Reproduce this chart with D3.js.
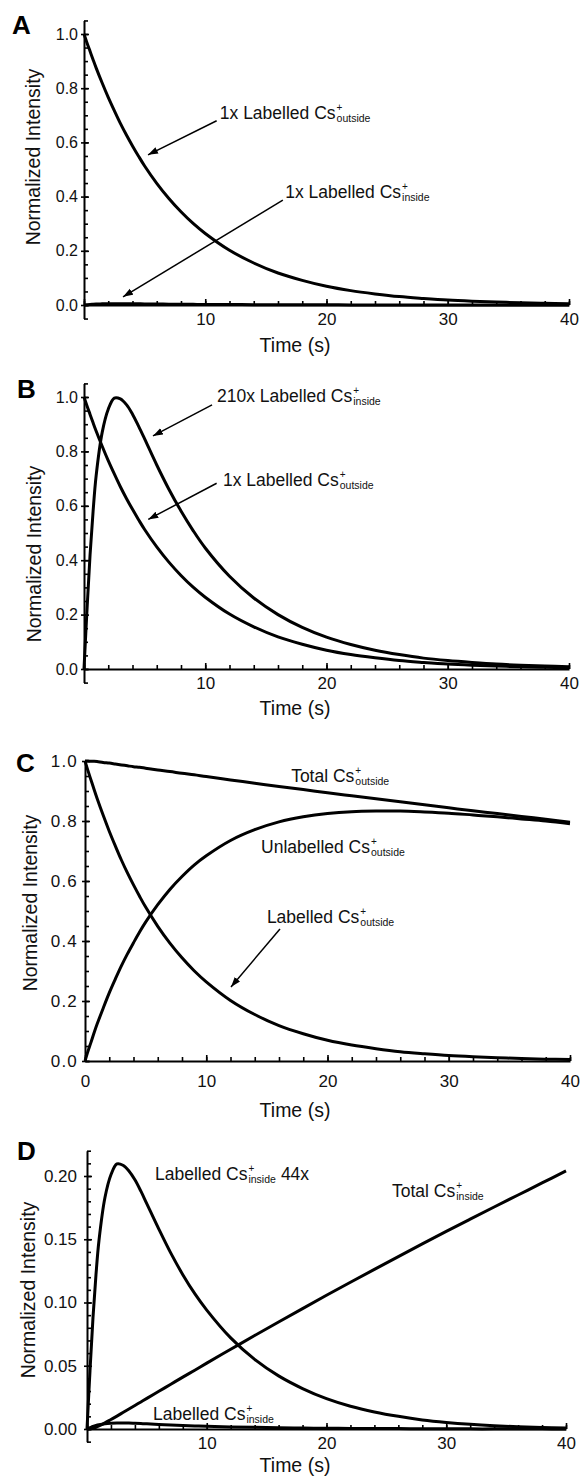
<!DOCTYPE html>
<html>
<head>
<meta charset="utf-8">
<script src="https://cdn.jsdelivr.net/npm/d3@7"></script>
<style>
body { margin: 0; background: #fff; }
svg text { font-family: "Liberation Sans", Arial, sans-serif; fill: #111; }
</style>
</head>
<body>
<svg id="fig" width="582" height="1477"></svg>
<script>
// time points (s), shared by every curve
var time = [0, 0.25, 0.5, 0.75, 1, 1.5, 2, 2.5, 3, 3.5, 4, 4.5, 5, 6, 7, 8, 9, 10,
	12, 14, 16, 18, 20, 22, 24, 26, 28, 30, 32, 34, 36, 38, 40];

// labelled Cs+ outside (A, B, C)
var labelledOutside = [1.000, 0.967, 0.936, 0.905, 0.875, 0.819, 0.766, 0.717, 0.670, 0.627, 0.587, 0.549, 0.513, 0.449, 0.393, 0.344, 0.301, 0.264,
	0.202, 0.155, 0.118, 0.091, 0.069, 0.053, 0.041, 0.031, 0.024, 0.018, 0.014, 0.011, 0.008, 0.006, 0.005];

// 210x labelled Cs+ inside (B)
var labelledInside210 = [0, 0.22, 0.42, 0.58, 0.71, 0.87, 0.955, 0.996, 0.993, 0.972, 0.937, 0.893, 0.846, 0.750, 0.661, 0.581, 0.509, 0.445,
	0.341, 0.261, 0.200, 0.153, 0.117, 0.090, 0.069, 0.053, 0.040, 0.031, 0.024, 0.018, 0.014, 0.011, 0.008];

// 1x labelled Cs+ inside (A, D)
var labelledInside = [0, 0.0010, 0.0020, 0.0028, 0.0034, 0.0042, 0.0046, 0.0048, 0.0048, 0.0047, 0.0045, 0.0043, 0.0041, 0.0036, 0.0032, 0.0028, 0.0024, 0.0021,
	0.0016, 0.0013, 0.0010, 0.0007, 0.0006, 0.0004, 0.0003, 0.0003, 0.0002, 0.0002, 0.0001, 0.0001, 0.0001, 0.0001, 0.0000];

// 44x labelled Cs+ inside (D)
var labelledInside44 = [0, 0.046, 0.088, 0.122, 0.149, 0.183, 0.201, 0.2095, 0.2085, 0.204, 0.197, 0.188, 0.178, 0.158, 0.139, 0.122, 0.107, 0.094,
	0.072, 0.055, 0.042, 0.032, 0.024, 0.018, 0.0135, 0.010, 0.0072, 0.0052, 0.0037, 0.0026, 0.0018, 0.0012, 0.0008];

// total Cs+ inside (D)
var totalInside = [0, 0.0002, 0.0007, 0.0014, 0.0024, 0.0048, 0.0075, 0.0102, 0.0130, 0.0158, 0.0186, 0.0214, 0.0242, 0.0298, 0.0354, 0.0410, 0.0465, 0.0521,
	0.0630, 0.0739, 0.0846, 0.0952, 0.1057, 0.1160, 0.1262, 0.1363, 0.1463, 0.1562, 0.1659, 0.1755, 0.1850, 0.1945, 0.2040];

// total and unlabelled Cs+ outside (C)
var totalOutside = [1.000, 1.000, 0.999, 0.999, 0.998, 0.995, 0.993, 0.990, 0.987, 0.984, 0.981, 0.979, 0.976, 0.970, 0.965, 0.959, 0.954, 0.948,
	0.937, 0.926, 0.915, 0.905, 0.894, 0.884, 0.874, 0.864, 0.854, 0.844, 0.834, 0.825, 0.815, 0.806, 0.796];
var unlabelledOutside = [0.000, 0.033, 0.063, 0.094, 0.123, 0.176, 0.227, 0.273, 0.317, 0.357, 0.394, 0.430, 0.463, 0.521, 0.572, 0.615, 0.653, 0.684,
	0.735, 0.771, 0.797, 0.814, 0.825, 0.831, 0.833, 0.833, 0.830, 0.826, 0.820, 0.814, 0.807, 0.800, 0.791];

// tick values
var yMajor01 = [0, 0.2, 0.4, 0.6, 0.8, 1.0];
var yMajorD = [0, 0.05, 0.10, 0.15, 0.20];
var xMajor = [0, 10, 20, 30, 40];
var xLabelsNoZero = [10, 20, 30, 40];

// panel layout
var panels = [
	{ letter: "A", lx: 12, ly: 34, left: 84, right: 569, zeroY: 305, refY: 34, refV: 1, yDom: [-0.05, 1.05], minorStep: 0.05,
		yMajor: yMajor01, yFmt: d3.format(".1f"), yFont: 16, yPad: 3, xLabels: xLabelsNoZero, xPad: 8, titleDy: 47, yTitleX: 40, yTitleY: 157,
		series: [labelledOutside, labelledInside] },
	{ letter: "B", lx: 17, ly: 398, left: 84, right: 569, zeroY: 669, refY: 397, refV: 1, yDom: [-0.05, 1.05], minorStep: 0.05,
		yMajor: yMajor01, yFmt: d3.format(".1f"), yFont: 16, yPad: 3, xLabels: xLabelsNoZero, xPad: 8, titleDy: 46, yTitleX: 41, yTitleY: 554,
		series: [labelledInside210, labelledOutside] },
	{ letter: "C", lx: 16, ly: 772, left: 85, right: 570, zeroY: 1061, refY: 761, refV: 1, yDom: [0, 1.0], minorStep: 0.05,
		yMajor: yMajor01, yFmt: d3.format(".1f"), yFont: 17, yPad: 4, xLabels: xMajor, xPad: 14, titleDy: 56, yTitleX: 37, yTitleY: 903,
		series: [totalOutside, unlabelledOutside, labelledOutside] },
	{ letter: "D", lx: 17, ly: 1160, left: 87, right: 566, zeroY: 1429, refY: 1176, refV: 0.2, yDom: [-0.01, 0.22], minorStep: 0.01,
		yMajor: yMajorD, yFmt: d3.format(".2f"), yFont: 17, yPad: 7, xLabels: xLabelsNoZero, xPad: 8, titleDy: 43, yTitleX: 35, yTitleY: 1290,
		series: [labelledInside44, totalInside, labelledInside] }
];

// annotations, positions in data units (t, value)
var notes = {
	A: [ { t: 11.2, v: 0.686, pre: "1x Labelled Cs", sub: "outside", arrow: [10.94, 0.680, 5.28, 0.554] },
		{ t: 16.6, v: 0.395, pre: "1x Labelled Cs", sub: "inside", arrow: [16.4, 0.387, 3.22, 0.030] } ],
	B: [ { t: 10.97, v: 0.983, pre: "210x Labelled Cs", sub: "inside", arrow: [10.56, 0.971, 5.69, 0.857] },
		{ t: 11.46, v: 0.673, pre: "1x Labelled Cs", sub: "outside", arrow: [10.94, 0.683, 5.30, 0.550] } ],
	C: [ { t: 17.0, v: 0.930, pre: "Total Cs", sub: "outside" },
		{ t: 14.52, v: 0.693, pre: "Unlabelled Cs", sub: "outside" },
		{ t: 15.0, v: 0.460, pre: "Labelled Cs", sub: "outside", arrow: [16.08, 0.44, 12.04, 0.247] } ],
	D: [ { t: 5.68, v: 0.1967, pre: "Labelled Cs", sub: "inside", post: "44x" },
		{ t: 25.47, v: 0.1833, pre: "Total Cs", sub: "inside" },
		{ t: 5.51, v: 0.0071, pre: "Labelled Cs", sub: "inside" } ]
};

var svg = d3.select("#fig");

svg.append("defs").append("marker")
	.attr("id", "head")
	.attr("markerUnits", "userSpaceOnUse")
	.attr("markerWidth", 11).attr("markerHeight", 8)
	.attr("refX", 10).attr("refY", 3.5)
	.attr("orient", "auto")
	.append("path").attr("d", "M0,0 L10,3.5 L0,7 Z").attr("fill", "#000");

function csLabel(g, x, y, pre, sub, post) {
	var t = g.append("text").attr("x", x).attr("y", y).attr("font-size", 17.5).text(pre);
	var w = t.node().getComputedTextLength();
	g.append("text").attr("x", x + w + 1).attr("y", y - 8).attr("font-size", 10).text("+");
	var s = g.append("text").attr("x", x + w + 1).attr("y", y + 3).attr("font-size", 10.5).text(sub);
	if (post) {
		var sw = s.node().getComputedTextLength();
		g.append("text").attr("x", x + w + 1 + sw + 5).attr("y", y).attr("font-size", 17.5).text(post);
	}
}

panels.forEach(function(p) {
	var g = svg.append("g");
	var k = (p.zeroY - p.refY) / p.refV;
	var x = d3.scaleLinear().domain([0, 40]).range([p.left, p.right]);
	var y = d3.scaleLinear().domain(p.yDom).range([p.zeroY - p.yDom[0] * k, p.zeroY - p.yDom[1] * k]);

	var minor = d3.range(Math.round((p.yDom[1] - p.yDom[0]) / p.minorStep) + 1).map(function(i) { return p.yDom[0] + i * p.minorStep; });
	var xMinor = d3.range(0, 41, 2);

	// y axis: outer majors with labels, inner minor ticks
	var ya = g.append("g").attr("transform", "translate(" + p.left + ",0)")
		.call(d3.axisLeft(y).tickValues(p.yMajor).tickSize(3).tickSizeOuter(0).tickPadding(p.yPad).tickFormat(p.yFmt));
	ya.selectAll("text").attr("font-size", p.yFont).style("font-family", null).attr("fill", null);
	if (p.letter == "C") ya.selectAll("text").attr("letter-spacing", 1.2);
	g.append("g").attr("transform", "translate(" + p.left + ",0)")
		.call(d3.axisRight(y).tickValues(minor).tickSize(4).tickFormat(""))
		.select(".domain").remove();
	g.append("g").attr("transform", "translate(" + p.left + ",0)")
		.call(d3.axisRight(y).tickValues(p.yMajor).tickSize(5).tickFormat(""))
		.select(".domain").remove();

	// x axis: ticks point up, labels below
	var xa = g.append("g").attr("transform", "translate(0," + p.zeroY + ")")
		.call(d3.axisBottom(x).tickValues(p.xLabels).tickSize(0).tickPadding(p.xPad).tickFormat(d3.format("d")));
	xa.selectAll("text").attr("font-size", 17).style("font-family", null).attr("fill", null);
	g.append("g").attr("transform", "translate(0," + p.zeroY + ")")
		.call(d3.axisTop(x).tickValues(xMinor).tickSize(4).tickFormat(""))
		.select(".domain").remove();
	g.append("g").attr("transform", "translate(0," + p.zeroY + ")")
		.call(d3.axisTop(x).tickValues(xMajor).tickSize(6).tickFormat(""))
		.select(".domain").remove();

	g.selectAll(".domain").attr("stroke", "#000").attr("stroke-width", 2);
	g.selectAll(".tick line").attr("stroke", "#000").attr("stroke-width", 1.6);

	// titles
	g.append("text").attr("x", 295).attr("y", p.zeroY + p.titleDy)
		.attr("text-anchor", "middle").attr("font-size", 19.5).text("Time (s)");
	g.append("text").attr("transform", "translate(" + p.yTitleX + "," + p.yTitleY + ") rotate(-90)")
		.attr("text-anchor", "middle").attr("font-size", 19.5).text("Normalized Intensity");
	g.append("text").attr("x", p.lx).attr("y", p.ly)
		.attr("font-size", 26).attr("font-weight", "bold").style("fill", "#000").text(p.letter);

	// curves
	var line = d3.line()
		.x(function(d, i) { return x(time[i]); })
		.y(function(d) { return y(d); })
		.curve(d3.curveCatmullRom.alpha(0.5));
	p.series.forEach(function(s) {
		g.append("path").datum(s)
			.attr("fill", "none").attr("stroke", "#000").attr("stroke-width", 3)
			.attr("stroke-linejoin", "round").attr("d", line);
	});

	// annotations
	notes[p.letter].forEach(function(n) {
		csLabel(g, x(n.t), y(n.v), n.pre, n.sub, n.post);
		if (n.arrow) {
			g.append("line")
				.attr("x1", x(n.arrow[0])).attr("y1", y(n.arrow[1]))
				.attr("x2", x(n.arrow[2])).attr("y2", y(n.arrow[3]))
				.attr("stroke", "#000").attr("stroke-width", 1.5)
				.attr("marker-end", "url(#head)");
		}
	});
});
</script>
</body>
</html>
